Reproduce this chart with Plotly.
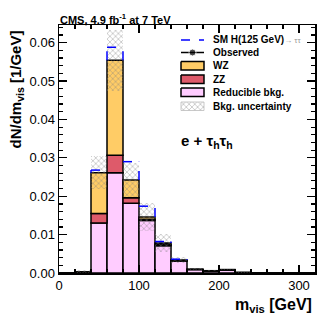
import plotly.graph_objects as go

# ---- data ----
bin_edges = [0, 20, 40, 60, 80, 100, 120, 140, 160, 180, 200, 220, 240, 260, 280, 300, 320]
reducible = [0.0, 0.0002, 0.0130, 0.0261, 0.0182, 0.0137, 0.0071, 0.0031, 0.0009, 0.0005, 0.0008, 0.0001, 0.0, 0.0, 0.0, 0.0]
zz        = [0.0, 0.0, 0.0025, 0.0046, 0.0014, 0.0003, 0.0003, 0.0001, 0.0, 0.0, 0.0, 0.0, 0.0, 0.0, 0.0, 0.0]
wz        = [0.0, 0.0001, 0.0106, 0.0247, 0.0046, 0.0006, 0.0004, 0.0002, 0.0001, 0.0001, 0.0001, 0.0, 0.0, 0.0, 0.0, 0.0]
signal    = [0.0, 0.0, 0.0007, 0.0034, 0.0048, 0.0028, 0.0004, 0.0002, 0.0, 0.0, 0.0, 0.0, 0.0, 0.0, 0.0, 0.0]
bkg_unc   = [0.0, 0.0004, 0.0043, 0.0079, 0.0045, 0.0036, 0.0024, 0.0007, 0.0003, 0.0002, 0.0002, 0.0001, 0.0, 0.0, 0.0, 0.0]

x_tickvals = [0, 100, 200, 300]
x_ticktext = ["0", "100", "200", "300"]
y_tickvals = [0.0, 0.01, 0.02, 0.03, 0.04, 0.05, 0.06]
y_ticktext = ["0.00", "0.01", "0.02", "0.03", "0.04", "0.05", "0.06"]

# ---- derived ----
n = len(reducible)
centers = [(a + b) / 2 for a, b in zip(bin_edges[:-1], bin_edges[1:])]
widths = [b - a for a, b in zip(bin_edges[:-1], bin_edges[1:])]
base_zz = reducible
base_wz = [r + z for r, z in zip(reducible, zz)]
total = [b + w for b, w in zip(base_wz, wz)]
sig_top = [t + s for t, s in zip(total, signal)]
unc_base = [t - u for t, u in zip(total, bkg_unc)]
unc_h = [2 * u for u in bkg_unc]

# visible part of the signal (stacked on top of background) outline
sx, sy = [], []
for i in range(n):
    if signal[i] > 0:
        sx += [bin_edges[i], bin_edges[i + 1], None]
        sy += [sig_top[i], sig_top[i], None]
for e in range(n + 1):
    lt = sig_top[e - 1] if e > 0 else 0.0
    rt = sig_top[e] if e < n else 0.0
    lb = total[e - 1] if e > 0 else 0.0
    rb = total[e] if e < n else 0.0
    lo = max(min(lt, rt), max(lb, rb))
    hi = max(lt, rt)
    if hi > lo:
        sx += [bin_edges[e], bin_edges[e], None]
        sy += [lo, hi, None]

FONT = "Liberation Sans, Arial, Helvetica, sans-serif"
C_WZ, C_ZZ, C_RED = "#FFCC66", "#DE5A6A", "#FFCCFF"

# pixel geometry of the plot area
L, R, T, B = 59, 315, 25, 273
W, H = 332, 322
def px(x):
    return (x - L) / (R - L)
def py(y):
    return (B - y) / (B - T)

fig = go.Figure()

line = dict(color="black", width=1.5)
fig.add_trace(go.Bar(x=centers, y=reducible, width=widths, base=[0] * n,
                     marker=dict(color=C_RED, line=line), showlegend=False))
fig.add_trace(go.Bar(x=centers, y=zz, width=widths, base=base_zz,
                     marker=dict(color=C_ZZ, line=line), showlegend=False))
fig.add_trace(go.Bar(x=centers, y=wz, width=widths, base=base_wz,
                     marker=dict(color=C_WZ, line=line), showlegend=False))
fig.add_trace(go.Bar(x=centers, y=unc_h, width=widths, base=unc_base,
                     marker=dict(color="rgba(0,0,0,0)", line=dict(width=0),
                                 pattern=dict(shape="x", fgcolor="#808080", bgcolor="rgba(0,0,0,0)",
                                              size=4, solidity=0.35, fillmode="overlay")),
                     showlegend=False))
fig.add_trace(go.Scatter(x=sx, y=sy, mode="lines", connectgaps=False,
                         line=dict(color="#0000FF", width=1.5, dash="dash"), showlegend=False, hoverinfo="skip"))

# ---- legend keys drawn on an overlay axis in pixel coordinates ----
kx0, kx1 = 181, 204
fig.add_trace(go.Scatter(x=[kx0, kx1], y=[40, 40], mode="lines", xaxis="x2", yaxis="y2",
                         line=dict(color="#0000FF", width=1.5, dash="dash"), showlegend=False, hoverinfo="skip"))
fig.add_trace(go.Scatter(x=[kx0, (kx0 + kx1) / 2, kx1], y=[52.5, 52.5, 52.5], mode="lines+markers",
                         xaxis="x2", yaxis="y2", marker=dict(size=[0, 7, 0], color="black"),
                         line=dict(color="black", width=1.5), showlegend=False, hoverinfo="skip"))
for (y0, y1, col) in [(61.5, 70, C_WZ), (75, 83.5, C_ZZ), (88, 96.5, C_RED)]:
    fig.add_trace(go.Scatter(x=[kx0, kx1, kx1, kx0, kx0], y=[y0, y0, y1, y1, y0], mode="lines",
                             xaxis="x2", yaxis="y2", fill="toself", fillcolor=col,
                             line=dict(color="black", width=1.5), showlegend=False, hoverinfo="skip"))
fig.add_trace(go.Scatter(x=[kx0, kx1, kx1, kx0, kx0], y=[102, 102, 110.5, 110.5, 102], mode="lines",
                         xaxis="x2", yaxis="y2", fill="toself", fillcolor="rgba(0,0,0,0)",
                         fillpattern=dict(shape="x", fgcolor="#808080", bgcolor="white", size=4, solidity=0.35),
                         line=dict(color="#bbbbbb", width=0.8), showlegend=False, hoverinfo="skip"))

leg_texts = [(40, "<b>SM H(125 GeV)</b><span style='color:#999999;font-size:8px'>→ ττ</span>"),
             (52.5, "<b>Observed</b>"), (65.5, "<b>WZ</b>"), (79, "<b>ZZ</b>"),
             (92, "<b>Reducible bkg.</b>"), (106, "<b>Bkg. uncertainty</b>")]
annotations = []
for yy, tx in leg_texts:
    annotations.append(dict(x=px(211), y=py(yy), xref="paper", yref="paper", text=tx, showarrow=False,
                            xanchor="left", yanchor="middle", font=dict(family=FONT, size=10, color="black")))

annotations += [
    dict(x=px(58), y=py(19), xref="paper", yref="paper", xanchor="left", yanchor="middle", showarrow=False,
         text="<b>CMS, 4.9 fb<sup>-1</sup> at 7 TeV</b>", font=dict(family=FONT, size=11, color="black")),
    dict(x=px(15.5), y=py(90), xref="paper", yref="paper", xanchor="center", yanchor="middle", showarrow=False,
         textangle=-90, text="<b>dN/dm<sub>vis</sub> [1/GeV]</b>", font=dict(family=FONT, size=15, color="black")),
    dict(x=px(314), y=py(305), xref="paper", yref="paper", xanchor="right", yanchor="middle", showarrow=False,
         text="<b>m<sub>vis</sub> [GeV]</b>", font=dict(family=FONT, size=16, color="black")),
    dict(x=px(179), y=py(141), xref="paper", yref="paper", xanchor="left", yanchor="middle", showarrow=False,
         text="<b>e + τ<sub>h</sub>τ<sub>h</sub></b>", font=dict(family=FONT, size=15, color="black")),
]

axis_common = dict(showline=True, linecolor="black", linewidth=1.5, mirror="allticks", ticks="inside",
                   ticklen=8, tickwidth=1.2, tickcolor="black", showgrid=False, zeroline=False,
                   tickfont=dict(family=FONT, size=13, color="black"))

fig.update_layout(
    width=W, height=H,
    margin=dict(l=L, r=W - R, t=T, b=H - B, pad=0),
    paper_bgcolor="white", plot_bgcolor="white", barmode="overlay", bargap=0,
    showlegend=False, annotations=annotations,
    xaxis=dict(range=[0, 320], tickvals=x_tickvals, ticktext=x_ticktext,
               minor=dict(dtick=20, ticklen=4, ticks="inside", tickcolor="black", tickwidth=1.2),
               **axis_common),
    yaxis=dict(range=[0, 0.0646], tickvals=y_tickvals, ticktext=y_ticktext,
               minor=dict(dtick=0.002, ticklen=4, ticks="inside", tickcolor="black", tickwidth=1.2),
               **axis_common),
    xaxis2=dict(range=[L, R], overlaying="x", visible=False, fixedrange=True),
    yaxis2=dict(range=[B, T], overlaying="y", visible=False, fixedrange=True),
)

fig.write_html("out.html", config={"displayModeBar": False, "staticPlot": True},
               post_script="document.body.style.margin='0px';")
